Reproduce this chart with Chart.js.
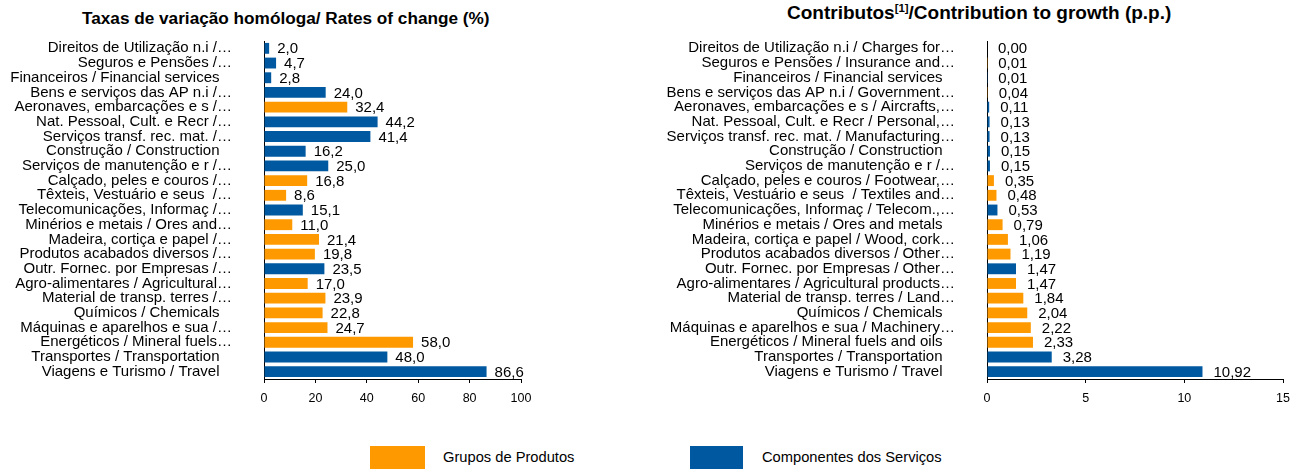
<!DOCTYPE html>
<html>
<head>
<meta charset="utf-8">
<script src="https://cdn.jsdelivr.net/npm/chart.js@4/dist/chart.umd.min.js"></script>
<style>
  html, body { margin:0; padding:0; background:#fff; width:1304px; height:469px; overflow:hidden; font-family:"Liberation Sans", Arial, sans-serif; }
  .wrap { position:absolute; }
  .title { position:absolute; font-weight:bold; color:#000; white-space:nowrap; line-height:1.15; }
  .title sup { font-size:0.6em; vertical-align:0.6em; line-height:0; }
  .sw { position:absolute; }
  .lt { position:absolute; font-size:14.7px; color:#000; white-space:nowrap; }
</style>
</head>
<body>
<div class="title" id="t1" style="left:82px; top:9px; font-size:17.2px;">Taxas de variação homóloga/ Rates of change (%)</div>
<div class="title" id="t2" style="left:787px; top:2px; font-size:19px;">Contributos<sup>[1]</sup>/Contribution to growth (p.p.)</div>
<div class="wrap" style="left:0; top:0; width:560px; height:420px;"><canvas id="c1" width="560" height="420"></canvas></div>
<div class="wrap" style="left:600px; top:0; width:704px; height:420px;"><canvas id="c2" width="704" height="420"></canvas></div>
<div class="sw" style="left:370px; top:446px; width:55px; height:23px; background:#FF9900;"></div>
<div class="lt" style="left:443px; top:449px;">Grupos de Produtos</div>
<div class="sw" style="left:690px; top:446px; width:53px; height:23px; background:#0059A0;"></div>
<div class="lt" style="left:762px; top:449px;">Componentes dos Serviços</div>
<script>
const ORANGE = '#FF9900';
const BLUE = '#0059A0';

const rateLabels = [
  "Direitos de Utilização n.i /…",
  "Seguros e Pensões /…",
  "Financeiros / Financial services   ",
  "Bens e serviços das AP n.i /…",
  "Aeronaves, embarcações e s /…",
  "Nat. Pessoal, Cult. e Recr /…",
  "Serviços transf. rec. mat. /…",
  "Construção / Construction   ",
  "Serviços de manutenção e r /…",
  "Calçado, peles e couros /…",
  "Têxteis, Vestuário e seus  /…",
  "Telecomunicações, Informaç /…",
  "Minérios e metais / Ores and…",
  "Madeira, cortiça e papel /…",
  "Produtos acabados diversos /…",
  "Outr. Fornec. por Empresas /…",
  "Agro-alimentares / Agricultural…",
  "Material de transp. terres /…",
  "Químicos / Chemicals   ",
  "Máquinas e aparelhos e sua /…",
  "Energéticos / Mineral fuels…",
  "Transportes / Transportation   ",
  "Viagens e Turismo / Travel   "
];
const rateValues = [2.0, 4.7, 2.8, 24.0, 32.4, 44.2, 41.4, 16.2, 25.0, 16.8, 8.6, 15.1, 11.0, 21.4, 19.8, 23.5, 17.0, 23.9, 22.8, 24.7, 58.0, 48.0, 86.6];
const rateGroups = ['S','S','S','S','P','S','S','S','S','P','P','S','P','P','P','S','P','P','P','P','P','S','S'];

const contribLabels = [
  "Direitos de Utilização n.i / Charges for…",
  "Seguros e Pensões / Insurance and…",
  "Financeiros / Financial services   ",
  "Bens e serviços das AP n.i / Government…",
  "Aeronaves, embarcações e s / Aircrafts,…",
  "Nat. Pessoal, Cult. e Recr / Personal,…",
  "Serviços transf. rec. mat. / Manufacturing…",
  "Construção / Construction   ",
  "Serviços de manutenção e r /…",
  "Calçado, peles e couros / Footwear,…",
  "Têxteis, Vestuário e seus  / Textiles and…",
  "Telecomunicações, Informaç / Telecom.,…",
  "Minérios e metais / Ores and metals   ",
  "Madeira, cortiça e papel / Wood, cork…",
  "Produtos acabados diversos / Other…",
  "Outr. Fornec. por Empresas / Other…",
  "Agro-alimentares / Agricultural products…",
  "Material de transp. terres / Land…",
  "Químicos / Chemicals   ",
  "Máquinas e aparelhos e sua / Machinery…",
  "Energéticos / Mineral fuels and oils   ",
  "Transportes / Transportation   ",
  "Viagens e Turismo / Travel   "
];
const contribValues = [0.00, 0.01, 0.01, 0.04, 0.11, 0.13, 0.13, 0.15, 0.15, 0.35, 0.48, 0.53, 0.79, 1.06, 1.19, 1.47, 1.47, 1.84, 2.04, 2.22, 2.33, 3.28, 10.92];
const contribGroups = ['P','P','S','P','S','S','S','S','S','P','P','S','P','P','P','S','P','P','P','P','P','S','S'];

const rateTicks = [0, 20, 40, 60, 80, 100];
const contribTicks = [0, 5, 10, 15];

const FONT = "'Liberation Sans', Arial, sans-serif";

function fmt(v, d) { return v.toFixed(d).replace('.', ','); }

function valueLabelPlugin(decimals, gap) {
  return {
    id: 'valLabels',
    afterDatasetsDraw(chart) {
      const ctx = chart.ctx;
      const meta = chart.getDatasetMeta(0);
      const data = chart.data.datasets[0].data;
      ctx.save();
      ctx.font = '15px ' + FONT;
      ctx.fillStyle = '#000';
      ctx.textAlign = 'left';
      ctx.textBaseline = 'middle';
      meta.data.forEach((bar, i) => {
        ctx.fillText(fmt(data[i], decimals), bar.x + gap, bar.y + 1);
      });
      ctx.restore();
    }
  };
}

function makeChart(id, labels, values, groups, tickVals, max, axisW, top, bottomH, padRight, decimals, gap) {
  return new Chart(document.getElementById(id), {
    type: 'bar',
    data: {
      labels: labels,
      datasets: [{
        data: values,
        backgroundColor: groups.map(g => g === 'P' ? ORANGE : BLUE),
        borderWidth: 0,
        barPercentage: 0.74,
        categoryPercentage: 1.0
      }]
    },
    options: {
      indexAxis: 'y',
      responsive: false,
      animation: false,
      events: [],
      layout: { padding: { top: top, right: padRight, bottom: 0, left: 0 } },
      plugins: { legend: { display: false }, tooltip: { enabled: false }, title: { display: false } },
      scales: {
        x: {
          min: 0, max: max,
          afterBuildTicks: (scale) => { scale.ticks = tickVals.map(v => ({ value: v })); },
          afterFit: (scale) => { scale.height = bottomH; },
          grid: { display: true, drawOnChartArea: false, drawTicks: true, tickLength: 4, color: '#000', lineWidth: 1 },
          border: { display: true, color: '#000', width: 1 },
          ticks: { color: '#000', font: { family: FONT, size: 12.5 }, padding: 8, maxRotation: 0, autoSkip: false }
        },
        y: {
          afterFit: (scale) => { scale.width = axisW; },
          grid: { display: true, drawOnChartArea: false, drawTicks: false },
          border: { display: true, color: '#000', width: 1 },
          ticks: { color: '#000', font: { family: FONT, size: 15 }, padding: 32, autoSkip: false, crossAlign: 'near' }
        }
      }
    },
    plugins: [valueLabelPlugin(decimals, gap)]
  });
}

// left chart: chart area x 264..521, y 38.5..381.5
makeChart('c1', rateLabels, rateValues, rateGroups, rateTicks, 100, 264, 38.5, 420 - 381.5, 560 - 521, 1, 8);
// right chart: chart area x 987..1283 (canvas offset 600), y 36.5..379.5
makeChart('c2', contribLabels, contribValues, contribGroups, contribTicks, 15, 387, 36.5, 420 - 379.5, 704 - 683, 2, 11);
</script>
</body>
</html>
